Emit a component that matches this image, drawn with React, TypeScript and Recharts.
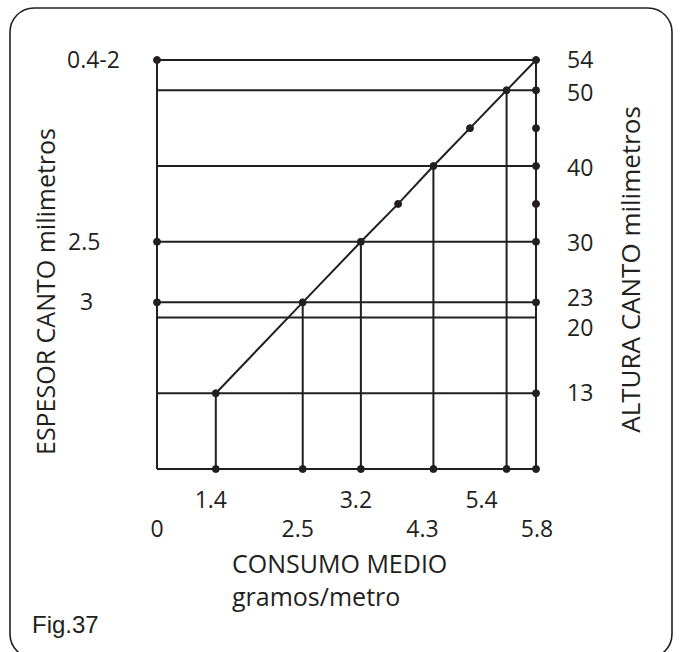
import React from 'react';
import { ComposedChart, XAxis, YAxis, Line, Scatter, ReferenceLine } from 'recharts';

// espesor (left), altura (right), consumo (bottom) scales of the nomogram
const espesorLabels = ['0.4-2', '2.5', '3'];
const espesorLevels = [54, 30, 22];

const alturaLabels = ['54', '50', '40', '30', '23', '20', '13'];
const alturaLevels = [54, 50, 40, 30, 22, 20, 10];

const consumoLabels = ['0', '1.4', '2.5', '3.2', '4.3', '5.4', '5.8'];
const consumoPos = [0, 0.9, 2.23, 3.12, 4.23, 5.35, 5.8];

const diagonalX = [0.9, 2.23, 3.12, 3.69, 4.23, 4.79, 5.35, 5.8];
const diagonalY = [10, 22, 30, 35, 40, 45, 50, 54];

const rightAxisDots = [54, 50, 45, 40, 35, 30, 22, 10];

const INK = '#231f20';
const FONT = "'Open Sans', sans-serif";
const X_MAX = 5.8;
const Y_MAX = 54;

// label nudges (px) so the text sits where the drawing has it
const consumoNudge = [0, -5, -5, -5, -11, -25, 1];
const espesorNudge = [-90, -89, -77];
const alturaNudge = [0, 3, 2, 1, -4, 10, 0];

const diagonal = diagonalX.map((x, i) => ({ x, y: diagonalY[i] }));

const leftDots = [
  ...espesorLevels.map(y => ({ x: 0, y })),
  ...consumoPos.slice(1).map(x => ({ x, y: 0 })),
  ...diagonal.slice(0, -1),
];
const rightDots = rightAxisDots.map(y => ({ x: X_MAX, y }));

const verticals = consumoPos.slice(1, -1).map(x => {
  const i = diagonalX.indexOf(x);
  return { x, top: diagonalY[i] };
});

const ConsumoTick = ({ x, y, payload }: any) => {
  const i = consumoPos.indexOf(payload.value);
  const upperRow = i % 2 === 1;
  return (
    <text
      x={x + consumoNudge[i]}
      y={y + (upperRow ? 39 : 68)}
      textAnchor="middle"
      fill={INK}
      fontSize={23}
      fontFamily={FONT}
    >
      {consumoLabels[i]}
    </text>
  );
};

const EspesorTick = ({ x, y, payload }: any) => {
  const i = espesorLevels.indexOf(payload.value);
  return (
    <text x={x + espesorNudge[i]} y={y + 8} textAnchor="start" fill={INK} fontSize={23} fontFamily={FONT}>
      {espesorLabels[i]}
    </text>
  );
};

const AlturaTick = ({ x, y, payload }: any) => {
  const i = alturaLevels.indexOf(payload.value);
  return (
    <text x={x + 31} y={y + 8 + alturaNudge[i]} textAnchor="start" fill={INK} fontSize={23} fontFamily={FONT}>
      {alturaLabels[i]}
    </text>
  );
};

const EspesorTitle = ({ viewBox }: any) => {
  const cx = viewBox.x - 2;
  const cy = viewBox.y + viewBox.height / 2 + 27;
  return (
    <text x={cx} y={cy} transform={`rotate(-90 ${cx} ${cy})`} textAnchor="middle" fill={INK} fontSize={25} fontFamily={FONT}>
      ESPESOR CANTO milimetros
    </text>
  );
};

const AlturaTitle = ({ viewBox }: any) => {
  const cx = viewBox.x + 104;
  const cy = viewBox.y + viewBox.height / 2 + 5;
  return (
    <text x={cx} y={cy} transform={`rotate(-90 ${cx} ${cy})`} textAnchor="middle" fill={INK} fontSize={26} fontFamily={FONT}>
      ALTURA CANTO milimetros
    </text>
  );
};

const ConsumoTitle = ({ viewBox }: any) => (
  <text fill={INK} fontSize={25} fontFamily={FONT}>
    <tspan x={viewBox.x + 75} y={viewBox.y + 104}>CONSUMO MEDIO</tspan>
    <tspan x={viewBox.x + 75} y={viewBox.y + 137}>gramos/metro</tspan>
  </text>
);

const Dot = ({ cx, cy }: any) => <circle cx={cx} cy={cy} r={3.5} fill={INK} stroke={INK} strokeWidth={1} />;

export default function App() {
  return (
    <div style={{ position: 'absolute', left: 0, top: 0, width: 681, height: 652, background: '#fff', overflow: 'hidden' }}>
      <svg width={681} height={652} style={{ position: 'absolute', left: 0, top: 0 }}>
        <rect x={10} y={8} width={662} height={650} rx={24} fill="none" stroke={INK} strokeWidth={1.6} />
        <text x={32} y={633} fill={INK} fontSize={24} fontFamily="'Liberation Sans Narrow', 'Liberation Sans', sans-serif">
          Fig.37
        </text>
      </svg>
      <div style={{ position: 'absolute', left: 0, top: 0 }}>
        <ComposedChart width={681} height={652} margin={{ top: 60, right: 45, bottom: 123, left: 57 }}>
          <XAxis
            type="number"
            dataKey="x"
            domain={[0, X_MAX]}
            ticks={consumoPos}
            interval={0}
            tickLine={false}
            tickSize={0}
            tickMargin={0}
            height={60}
            axisLine={{ stroke: INK, strokeWidth: 2 }}
            tick={<ConsumoTick />}
            label={{ content: (p: any) => <ConsumoTitle viewBox={p.viewBox} /> }}
          />
          <YAxis
            yAxisId="left"
            type="number"
            domain={[0, Y_MAX]}
            ticks={espesorLevels}
            interval={0}
            width={100}
            tickLine={false}
            tickSize={0}
            tickMargin={0}
            axisLine={{ stroke: INK, strokeWidth: 2 }}
            tick={<EspesorTick />}
            label={{ content: (p: any) => <EspesorTitle viewBox={p.viewBox} /> }}
          />
          <YAxis
            yAxisId="right"
            orientation="right"
            type="number"
            domain={[0, Y_MAX]}
            ticks={alturaLevels}
            interval={0}
            width={100}
            tickLine={false}
            tickSize={0}
            tickMargin={0}
            axisLine={{ stroke: INK, strokeWidth: 2 }}
            tick={<AlturaTick />}
            label={{ content: (p: any) => <AlturaTitle viewBox={p.viewBox} /> }}
          />
          {alturaLevels.map(level => (
            <ReferenceLine
              key={`h${level}`}
              yAxisId="left"
              segment={[{ x: 0, y: level }, { x: X_MAX, y: level }]}
              stroke={INK}
              strokeWidth={2}
            />
          ))}
          {verticals.map(v => (
            <ReferenceLine
              key={`v${v.x}`}
              yAxisId="left"
              segment={[{ x: v.x, y: 0 }, { x: v.x, y: v.top }]}
              stroke={INK}
              strokeWidth={2}
            />
          ))}
          <Line
            yAxisId="left"
            data={diagonal}
            dataKey="y"
            type="linear"
            stroke={INK}
            strokeWidth={2}
            dot={false}
            isAnimationActive={false}
          />
          <Scatter yAxisId="left" data={leftDots} dataKey="y" shape={<Dot />} isAnimationActive={false} />
          <Scatter yAxisId="right" data={rightDots} dataKey="y" shape={<Dot />} isAnimationActive={false} />
        </ComposedChart>
      </div>
    </div>
  );
}
